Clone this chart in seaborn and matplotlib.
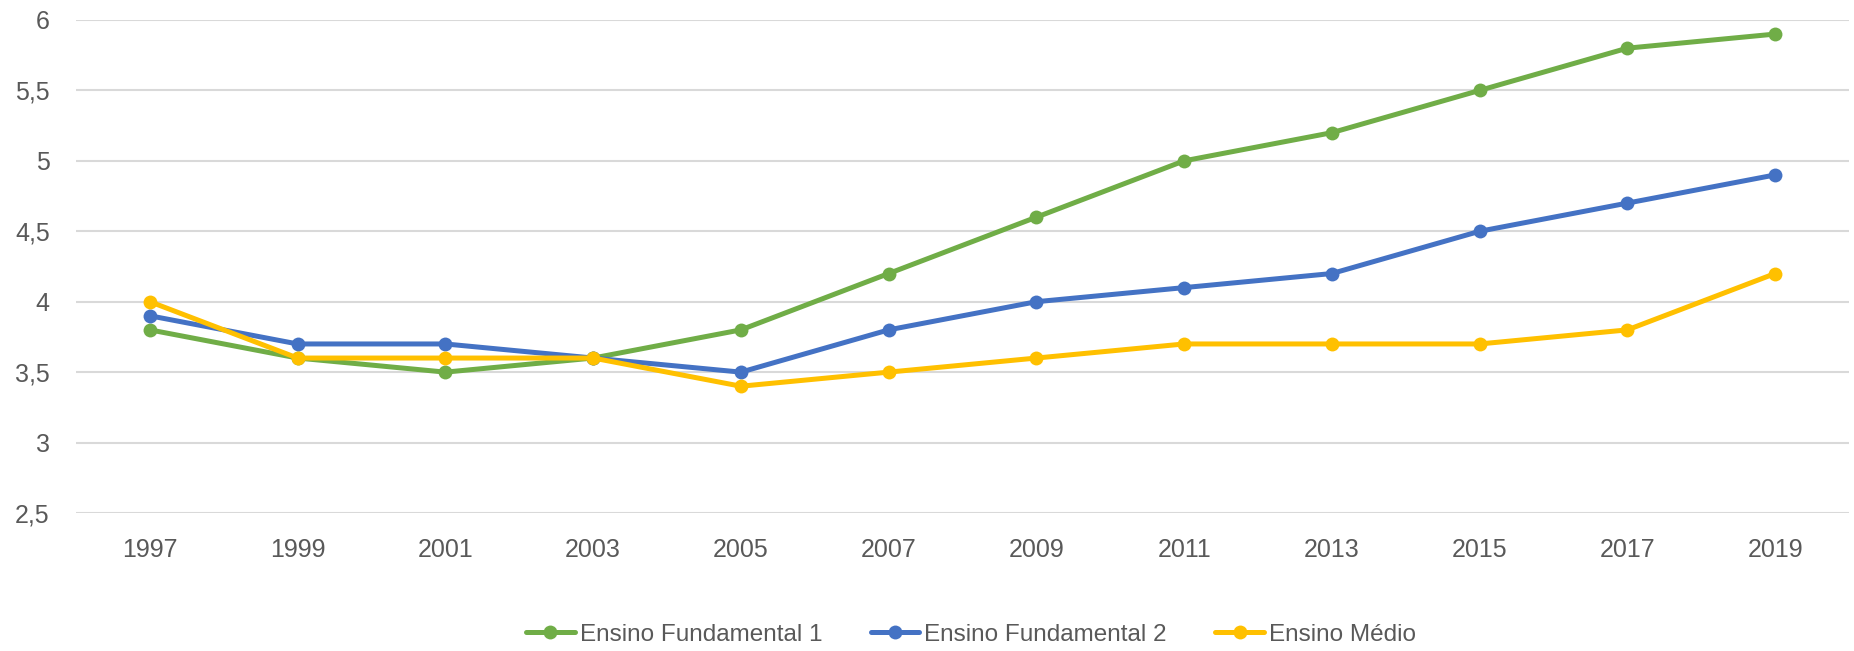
import matplotlib
matplotlib.use("Agg")
import matplotlib.pyplot as plt
import seaborn as sns
import pandas as pd
from matplotlib.ticker import FuncFormatter

years = ["1997", "1999", "2001", "2003", "2005", "2007", "2009", "2011", "2013", "2015", "2017", "2019"]
ef1 = [3.8, 3.6, 3.5, 3.6, 3.8, 4.2, 4.6, 5.0, 5.2, 5.5, 5.8, 5.9]
ef2 = [3.9, 3.7, 3.7, 3.6, 3.5, 3.8, 4.0, 4.1, 4.2, 4.5, 4.7, 4.9]
em = [4.0, 3.6, 3.6, 3.6, 3.4, 3.5, 3.6, 3.7, 3.7, 3.7, 3.8, 4.2]
series_names = ["Ensino Fundamental 1", "Ensino Fundamental 2", "Ensino Médio"]
colors = ["#70AD47", "#4472C4", "#FFC000"]

df = pd.concat([
    pd.DataFrame({"Ano": years, "Valor": vals, "Série": name})
    for name, vals in zip(series_names, [ef1, ef2, em])
], ignore_index=True)

sns.set_theme(style="white")
plt.rcParams["font.family"] = ["Liberation Sans", "DejaVu Sans"]

fig = plt.figure(figsize=(18.54, 6.51), dpi=100)
ax = fig.add_axes([0.041, 0.212, 0.9563, 0.7573])

sns.lineplot(data=df, x="Ano", y="Valor", hue="Série", hue_order=series_names,
             palette=colors, marker="o", markersize=10, markeredgewidth=0,
             linewidth=3.6, ax=ax, legend=True, sort=False)

ax.set_xlim(-0.5, 11.5)
ax.set_ylim(2.5, 6.0)
ax.set_yticks([2.5, 3, 3.5, 4, 4.5, 5, 5.5, 6])
ax.yaxis.set_major_formatter(FuncFormatter(lambda v, p: ("%g" % v).replace(".", ",")))
ax.grid(axis="y", color="#D9D9D9", linewidth=1.5)
ax.set_axisbelow(True)
for s in ax.spines.values():
    s.set_visible(False)
ax.tick_params(axis="both", length=0, labelsize=18, colors="#595959")
ax.tick_params(axis="x", pad=18)
ax.tick_params(axis="y", pad=19)
ax.set_xlabel("")
ax.set_ylabel("")

handles, labels = ax.get_legend_handles_labels()
ax.get_legend().remove()
leg = fig.legend(handles, labels, loc="center", bbox_to_anchor=(0.5237, 0.0246), ncol=3,
                 frameon=False, fontsize=17.5, handlelength=2.0, handletextpad=0.2,
                 columnspacing=2.0, borderpad=0)
for t in leg.get_texts():
    t.set_color("#595959")

fig.savefig("out.png", dpi=100)
